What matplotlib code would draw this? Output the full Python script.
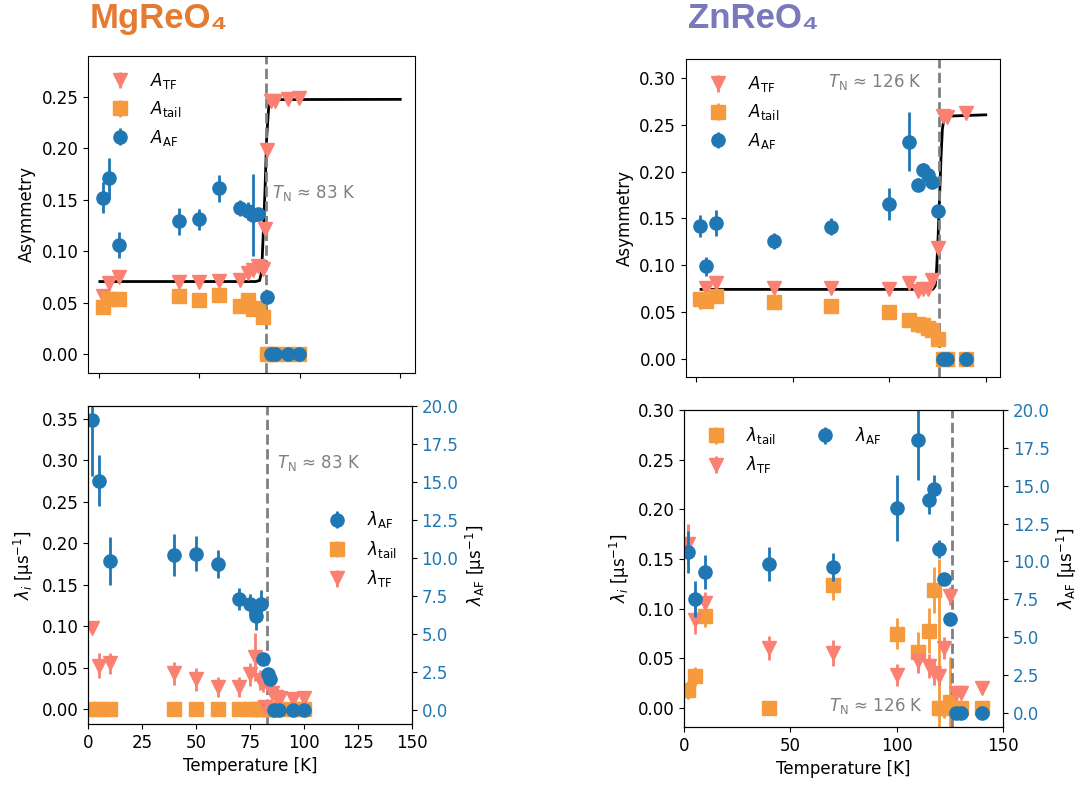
import numpy as np
import matplotlib.pyplot as plt

nan = np.nan

# ---- MgReO4, asymmetries (top left)
mg_T = [2, 5, 10, 40, 50, 60, 70, 74, 76.5, 79, 81.5, 82.5, 83.5, 85.5, 87.5, 94, 99.5]
mg_A_tf = [0.056, 0.069, 0.075, 0.070, 0.070, 0.071, 0.072, 0.079, 0.082, 0.086,
           0.083, 0.122, 0.198, 0.246, 0.246, 0.248, 0.249]
mg_A_tail = [0.046, 0.054, 0.054, 0.056, 0.053, 0.057, 0.047, 0.053, 0.044, 0.045,
             0.036, nan, 0.0, 0.0, 0.0, 0.0, 0.0]
mg_A_af = [0.152, 0.171, 0.106, 0.129, 0.131, 0.161, 0.142, 0.139, 0.135, 0.136,
           nan, nan, 0.055, 0.0, 0.0, 0.0, 0.0]
mg_A_af_err = [0.015, 0.020, 0.013, 0.013, 0.010, 0.013, 0.008, 0.009, 0.040, 0.006,
               nan, nan, 0.004, 0, 0, 0, 0]
mg_fit_T = [0.5, 78, 80, 81, 82, 82.7, 83.5, 84.5, 86, 150]
mg_fit_A = [0.0705, 0.0705, 0.0715, 0.08, 0.125, 0.16, 0.21, 0.24, 0.2475, 0.2477]
mg_TN = 83

# ---- MgReO4, relaxation rates (bottom left)
mg_T_af = [2, 5, 10, 40, 50, 60, 70, 75, 78, 80, 81, 83.5, 84.5, 86, 88.5, 95, 100]
mg_lam_af = [19.1, 15.1, 9.8, 10.2, 10.3, 9.6, 7.3, 6.95, 6.2, 7.0, 3.33, 2.35, 2.06, 0, 0, 0, 0]
mg_lam_af_err = [3.7, 1.7, 1.6, 1.4, 1.15, 0.93, 0.7, 0.7, 0.9, 0.9, 0.15, 0.15, 0.15, 0, 0, 0, 0]
mg_lam_tail = [0.0] * len(mg_T_af)
mg_T_tf = [2, 5, 10, 40, 50, 60, 70, 75, 77.5, 79.5, 81, 82, 85, 87, 89, 95, 100]
mg_lam_tf = [0.098, 0.052, 0.055, 0.043, 0.036, 0.027, 0.027, 0.042, 0.063, 0.035,
             0.031, 0.002, 0.019, 0.015, 0.013, 0.012, 0.013]
mg_lam_tf_err = [0.004, 0.015, 0.013, 0.014, 0.014, 0.012, 0.012, 0.014, 0.029, 0.012,
                 0.010, 0.004, 0.005, 0.005, 0.004, 0.004, 0.004]

# ---- ZnReO4
zn_T = [2, 5, 10, 40, 70, 100, 110, 115, 117.5, 120, 122, 125, 128, 130, 140]
zn_A_tf = [0.061, 0.0755, 0.0815, 0.0755, 0.0755, 0.0744, 0.0808, 0.0726, 0.0744, 0.0744,
           0.0843, 0.118, 0.259, 0.258, 0.262]
zn_A_tail = [0.0637, 0.062, 0.067, 0.061, 0.0566, 0.0498, 0.0416, 0.038, 0.036, 0.0328,
             0.031, 0.022, 0.0, 0.0, 0.0]
zn_A_af = [0.142, 0.099, 0.145, 0.126, 0.141, 0.165, 0.232, 0.186, 0.202, 0.196,
           0.189, 0.158, 0.0, 0.0, 0.0]
zn_A_af_err = [0.012, 0.010, 0.014, 0.0085, 0.009, 0.017, 0.031, 0.007, 0.007, 0.006,
               0.006, 0.005, 0, 0, 0]
zn_fit_T = [2.4, 122.5, 123.8, 124.5, 125.3, 126, 126.8, 127.5, 128.5, 150]
zn_fit_A = [0.0744, 0.0744, 0.078, 0.095, 0.13, 0.17, 0.215, 0.245, 0.259, 0.2605]
zn_TN = 126

zn_lam_af = [10.62, 7.53, 9.29, 9.82, 9.6, 13.53, 18.04, 14.08, 14.79, 10.84, 8.85, 6.18, 0, 0, 0]
zn_lam_af_err = [1.38, 1.2, 1.13, 1.1, 0.92, 2.2, 2.67, 0.94, 0.9, 0.6, 0.3, 0.2, 0, 0, 0]
zn_lam_tail = [0.0185, 0.0319, 0.093, 0.0, 0.1236, 0.0749, 0.0564, 0.078, 0.1186, 0.0,
               0.0, 0.006, 0.0, 0.0, 0.0]
zn_lam_tail_err = [0.0092, 0.010, 0.011, 0.0, 0.0146, 0.0156, 0.020, 0.0227, 0.023, 0.15,
                   0.01, 0.045, 0, 0, 0]
zn_lam_tf = [0.165, 0.089, 0.1058, 0.0605, 0.0554, 0.0336, 0.047, 0.042, 0.0353, 0.032,
             0.0605, 0.1125, 0.015, 0.015, 0.020]
zn_lam_tf_err = [0.02, 0.0143, 0.011, 0.0124, 0.013, 0.011, 0.012, 0.012, 0.012, 0.009,
                 0.011, 0.009, 0.004, 0.004, 0.003]

BLUE = "#1f77b4"
ORANGE = "#f59a3d"
SALMON = "salmon"
GREY = "grey"

plt.rcParams["font.size"] = 12
kw = dict(ms=9.5, elinewidth=2, capsize=0)


def top_panel(ax, T, A_tf, A_tail, A_af, A_af_err, fit_T, fit_A, TN):
    small = [0.002] * len(T)
    ax.errorbar(T, A_tf, yerr=small, fmt="v", color=SALMON, label=r"$A_\mathrm{TF}$", **kw)
    ax.errorbar(T, A_tail, yerr=small, fmt="s", color=ORANGE, label=r"$A_\mathrm{tail}$", **kw)
    ax.errorbar(T, A_af, yerr=A_af_err, fmt="o", color=BLUE, label=r"$A_\mathrm{AF}$", **kw)
    ax.plot(fit_T, fit_A, color="black", lw=2)
    ax.axvline(TN, color=GREY, ls="--", lw=2)
    ax.set_xlim(-5.4, 157.4)
    ax.set_xticks([0, 50, 100, 150])
    ax.tick_params(labelbottom=False)
    ax.set_ylabel("Asymmetry")
    ax.legend(loc="upper left", frameon=False)


def bottom_panel(ax, T_tail, lam_tail, lam_tail_err, T_tf, lam_tf, lam_tf_err,
                 T_af, lam_af, lam_af_err, TN):
    ax.errorbar(T_tail, lam_tail, yerr=lam_tail_err, fmt="s", color=ORANGE,
                label=r"$\lambda_\mathrm{tail}$", **kw)
    ax.errorbar(T_tf, lam_tf, yerr=lam_tf_err, fmt="v", color=SALMON,
                label=r"$\lambda_\mathrm{TF}$", **kw)
    ax.axvline(TN, color=GREY, ls="--", lw=2)
    ax2 = ax.twinx()
    ax2.errorbar(T_af, lam_af, yerr=lam_af_err, fmt="o", color=BLUE,
                 label=r"$\lambda_\mathrm{AF}$", **kw)
    ax.set_xlim(0, 150)
    ax.set_xticks([0, 50, 100, 150] if TN > 100 else [0, 25, 50, 75, 100, 125, 150])
    ax.set_xlabel("Temperature [K]")
    ax.set_ylabel(r"$\lambda_i$ [µs$^{-1}$]")
    ax2.set_ylabel(r"$\lambda_\mathrm{AF}$ [µs$^{-1}$]")
    ax2.tick_params(axis="y", labelcolor=BLUE)
    ax2.set_yticks(np.arange(0, 20.1, 2.5))
    return ax2


fig = plt.figure(figsize=(10.83, 7.87), dpi=100)

# MgReO4
ax = fig.add_axes([0.0813, 0.526, 0.302, 0.403])
top_panel(ax, mg_T, mg_A_tf, mg_A_tail, mg_A_af, mg_A_af_err, mg_fit_T, mg_fit_A, mg_TN)
ax.set_ylim(-0.0185, 0.29)
ax.set_yticks(np.arange(0, 0.251, 0.05))
ax.text(86.2, 0.157, r"$T_\mathrm{N}$ ≈ 83 K", color=GREY, va="center")

ax = fig.add_axes([0.0813, 0.080, 0.299, 0.404])
zero = [0] * len(mg_T_af)
ax2 = bottom_panel(ax, mg_T_af, mg_lam_tail, zero, mg_T_tf, mg_lam_tf, mg_lam_tf_err,
                   mg_T_af, mg_lam_af, mg_lam_af_err, mg_TN)
ax.set_ylim(-0.018, 0.365)
ax.set_yticks(np.arange(0, 0.351, 0.05))
ax2.set_ylim(-0.92, 20.0)
ax.text(87.5, 0.297, r"$T_\mathrm{N}$ ≈ 83 K", color=GREY, va="center")
h1, l1 = ax.get_legend_handles_labels()
h2, l2 = ax2.get_legend_handles_labels()
ax2.legend(h2 + h1, l2 + l1, loc="center right", bbox_to_anchor=(1.0, 0.55), frameon=False)

# ZnReO4
ax = fig.add_axes([0.6334, 0.521, 0.290, 0.404])
top_panel(ax, zn_T, zn_A_tf, zn_A_tail, zn_A_af, zn_A_af_err, zn_fit_T, zn_fit_A, zn_TN)
ax.set_ylim(-0.019, 0.32)
ax.set_yticks(np.arange(0, 0.301, 0.05))
ax.text(68, 0.296, r"$T_\mathrm{N}$ ≈ 126 K", color=GREY, va="center")

ax = fig.add_axes([0.6316, 0.0762, 0.2946, 0.4028])
ax2 = bottom_panel(ax, zn_T, zn_lam_tail, zn_lam_tail_err, zn_T, zn_lam_tf, zn_lam_tf_err,
                   zn_T, zn_lam_af, zn_lam_af_err, zn_TN)
ax.set_ylim(-0.019, 0.30)
ax.set_yticks(np.arange(0, 0.301, 0.05))
ax2.set_ylim(-0.95, 20.0)
ax.text(68, 0.002, r"$T_\mathrm{N}$ ≈ 126 K", color=GREY, va="center")
h1, l1 = ax.get_legend_handles_labels()
h2, l2 = ax2.get_legend_handles_labels()
ax2.legend(h1 + h2, l1 + l2, loc="upper left", ncol=2, frameon=False)

# titles
fig.text(0.083, 0.976, "MgReO₄", color="#e57a33", fontsize=25, fontweight="bold",
         family=["Liberation Sans", "DejaVu Sans"], va="center")
fig.text(0.635, 0.976, "ZnReO₄", color="#7a79bd", fontsize=25, fontweight="bold",
         family=["Liberation Sans", "DejaVu Sans"], va="center")

fig.savefig("out.png", dpi=100)
